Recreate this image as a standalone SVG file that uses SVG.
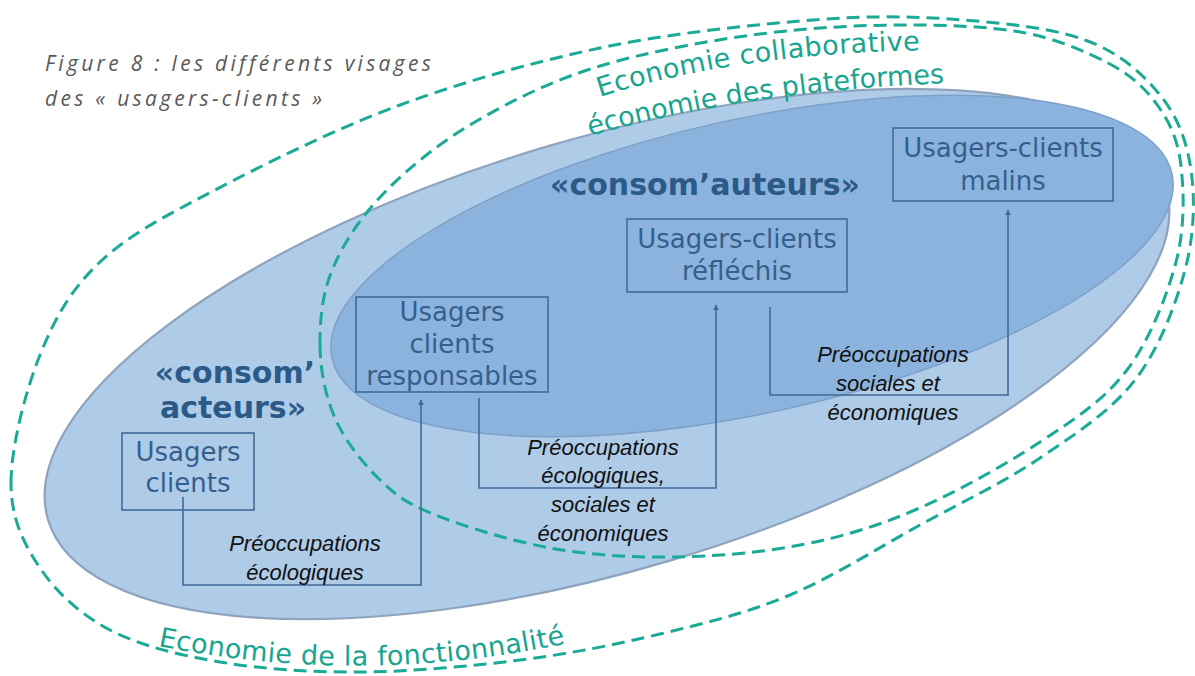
<svg xmlns="http://www.w3.org/2000/svg" width="1195" height="676" viewBox="0 0 1195 676">
<defs>
<style>
.title{font-family:"Open Sans","Liberation Sans",sans-serif;font-style:italic;font-size:21px;fill:#595959;letter-spacing:3.3px}
.teal{font-family:"DejaVu Sans",Verdana,sans-serif;font-size:27px;fill:#17a590}
.dash{fill:none;stroke:#1aaa96;stroke-width:3;stroke-dasharray:13 7}
.box{fill:none;stroke:#3f6b99;stroke-width:1.6}
.nt{font-family:"DejaVu Sans",Verdana,sans-serif;font-size:26px;fill:#355f8c;text-anchor:middle}
.big{font-family:"DejaVu Sans",Verdana,sans-serif;font-size:30px;font-weight:bold;fill:#2b5a88;text-anchor:middle}
.lab{font-family:"Liberation Sans",Arial,sans-serif;font-style:italic;font-size:22px;fill:#111;text-anchor:middle}
.con{fill:none;stroke:#3f6b99;stroke-width:1.6}
</style>
<marker id="arr" viewBox="0 0 10 10" refX="9" refY="5" markerWidth="6" markerHeight="9" orient="auto" markerUnits="userSpaceOnUse">
<path d="M0,0 L10,5 L0,10 z" fill="#3f6b99"/>
</marker>
<path id="bottomArc" d="M158,646 Q370,688 582,640"/>
<path id="topArc1" d="M600,97 Q740,52 938,50"/>
<path id="topArc2" d="M590,136 Q750,90 952,83"/>
</defs>

<g id="ellipses">
<ellipse cx="607" cy="354" rx="583" ry="216" transform="rotate(-16.5 607 354)" fill="#aecbe8" stroke="#8fa3bd" stroke-width="2.2"/>
<ellipse cx="752" cy="266" rx="430" ry="147" transform="rotate(-12.4 752 266)" fill="#8cb3de" stroke="#7d9fc8" stroke-width="1.4"/>
</g>

<g id="zones">
<path id="zone-fonctionnalite" class="dash" d="M11,483 C11,447.5 25.2,391.8 40,355 C54.8,318.2 70.8,289.5 100,262 C129.2,234.5 165,216.2 215,190 C265,163.8 335.8,128.7 400,105 C464.2,81.3 533.3,62.2 600,48 C666.7,33.8 741.7,26 800,21 C858.3,16 902.5,15.7 950,19 C997.5,22.3 1050,27.2 1085,40 C1120,52.8 1142.3,73.3 1160,95 C1177.7,116.7 1186.8,140.8 1191,170 C1195.2,199.2 1194.3,235 1185,270 C1175.7,305 1159.2,348.7 1135,380 C1110.8,411.3 1075.8,433.8 1040,458 C1004.2,482.2 961.7,502.2 920,525 C878.3,547.8 833.3,576.8 790,595 C746.7,613.2 705,623.2 660,634 C615,644.8 570,653.7 520,660 C470,666.3 410,671.7 360,672 C310,672.3 261.7,669 220,662 C178.3,655 140,645.7 110,630 C80,614.3 56.5,592.5 40,568 C23.5,543.5 11,518.5 11,483 Z"/>
<path id="zone-collaborative" class="dash" d="M320,345 C319.7,320 322.2,293.5 333,268 C343.8,242.5 361.3,216.3 385,192 C408.7,167.7 439.2,143 475,122 C510.8,101 552.5,80.3 600,66 C647.5,51.7 710,40.3 760,34 C810,27.7 856.7,25.2 900,25 C943.3,24.8 985.3,26.2 1020,32 C1054.7,37.8 1085,51.2 1108,63 C1131,74.8 1145.8,88.8 1158,106 C1170.2,123.2 1178,140 1181,166 C1184,192 1185,228 1176,262 C1167,296 1149.7,340 1127,370 C1104.3,400 1075.3,418.7 1040,442 C1004.7,465.3 955,492.8 915,510 C875,527.2 840.3,537.2 800,545 C759.7,552.8 714.7,556.5 673,557 C631.3,557.5 590,555.2 550,548 C510,540.8 461.7,525.7 433,514 C404.3,502.3 394.3,494 378,478 C361.7,462 344.7,440.2 335,418 C325.3,395.8 320.3,370 320,345 Z"/>
</g>

<g id="title">
<text class="title" x="45" y="71">Figure 8 : les différents visages</text>
<text class="title" x="45" y="106">des « usagers-clients »</text>
</g>

<g id="zone-labels">
<text class="teal" font-size="28" letter-spacing="0.4"><textPath href="#topArc1">Economie collaborative</textPath></text>
<text class="teal"><textPath href="#topArc2">économie des plateformes</textPath></text>
<text class="teal" font-size="27.5" letter-spacing="0.3"><textPath href="#bottomArc">Economie de la fonctionnalité</textPath></text>
</g>

<g id="group-acteurs">
<text class="big" x="235" y="383">«consom’</text>
<text class="big" x="233" y="418">acteurs»</text>
</g>
<g id="group-auteurs">
<text class="big" x="705" y="195">«consom’auteurs»</text>
</g>

<g id="connectors">
<path class="con" d="M183,497 V585 H421 V400" marker-end="url(#arr)"/>
<path class="con" d="M479,398 V488 H716 V305" marker-end="url(#arr)"/>
<path class="con" d="M770,307 V395 H1008 V210" marker-end="url(#arr)"/>
</g>

<g id="node-usagers-clients">
<rect class="box" x="122" y="433" width="132" height="77"/>
<text class="nt" x="188" y="461">Usagers</text>
<text class="nt" x="188" y="492">clients</text>
</g>
<g id="node-responsables">
<rect class="box" x="356" y="297" width="192" height="95"/>
<text class="nt" x="452" y="321">Usagers</text>
<text class="nt" x="452" y="353">clients</text>
<text class="nt" x="452" y="385">responsables</text>
</g>
<g id="node-reflechis">
<rect class="box" x="627" y="219" width="220" height="73"/>
<text class="nt" x="737" y="248">Usagers-clients</text>
<text class="nt" x="737" y="280">réfléchis</text>
</g>
<g id="node-malins">
<rect class="box" x="893" y="128" width="220" height="73"/>
<text class="nt" x="1003" y="157">Usagers-clients</text>
<text class="nt" x="1003" y="190">malins</text>
</g>

<g id="labels">
<text class="lab" x="305" y="551">Préoccupations</text>
<text class="lab" x="305" y="580">écologiques</text>
<text class="lab" x="603" y="455">Préoccupations</text>
<text class="lab" x="603" y="483">écologiques,</text>
<text class="lab" x="603" y="512">sociales et</text>
<text class="lab" x="603" y="541">économiques</text>
<text class="lab" x="893" y="362">Préoccupations</text>
<text class="lab" x="888" y="391">sociales et</text>
<text class="lab" x="893" y="420">économiques</text>
</g>
</svg>
